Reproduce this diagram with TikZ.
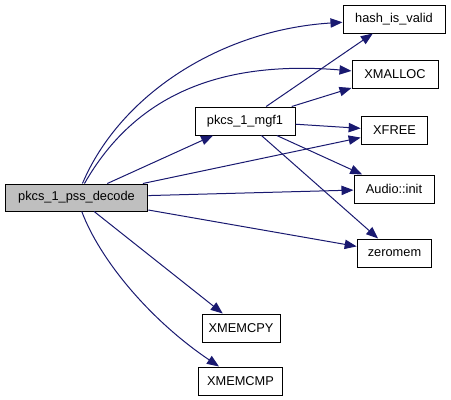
\documentclass[tikz,border=0pt]{standalone}
\usepackage{fontspec}
\setmainfont{Liberation Sans}
\usetikzlibrary{arrows.meta}
\definecolor{callblue}{HTML}{191970}
\definecolor{focusgray}{HTML}{BFBFBF}
\begin{document}
\begin{tikzpicture}[x=0.75pt,y=-0.75pt,
    fn/.style={draw=black, line width=0.75pt, fill=white, inner sep=0pt,
        minimum height=21pt, font=\fontsize{9.6}{11}\selectfont},
    call/.style={draw=callblue, line width=0.75pt,
        -{Triangle[length=9pt,width=7pt,fill=callblue]}}]
        \useasboundingbox (0,0) rectangle (451,400);
        % functions
            \node[fn, fill=focusgray, minimum width=107pt, minimum height=20.25pt] (decode) at (76.5,197.5) {pkcs\_1\_pss\_decode};
            \foreach \n/\x/\y/\w/\t in {mgf1/245/121/75/pkcs\_1\_mgf1,
                hash/394/19/76.5/hash\_is\_valid, xmalloc/395/74.5/64.5/XMALLOC,
                xfree/394.5/130.5/50/XFREE, audio/394/189/60/Audio::init,
                zeromem/394.5/253/56/zeromem, xmemcpy/241/328/58.5/XMEMCPY,
                xmemcmp/240.5/381/63.5/XMEMCMP}{
                \node[fn, minimum width=\w pt] (\n) at (\x,\y) {\t};
            }
        % calls
            \foreach \a/\b in {decode/mgf1,decode/xfree,decode/audio,decode/zeromem,decode/xmemcpy,
                mgf1/hash,mgf1/xmalloc,mgf1/xfree,mgf1/audio,mgf1/zeromem}{
                \draw[call] (\a) -- (\b);
            }
            \draw[call] (decode) .. controls (120,95) and (220,30) .. (hash);
            \draw[call] (decode) .. controls (135,95) and (220,60) .. (xmalloc);
            \draw[call] (decode) .. controls (100,260) and (150,320) .. (xmemcmp);
        \end{tikzpicture}
\end{document}
